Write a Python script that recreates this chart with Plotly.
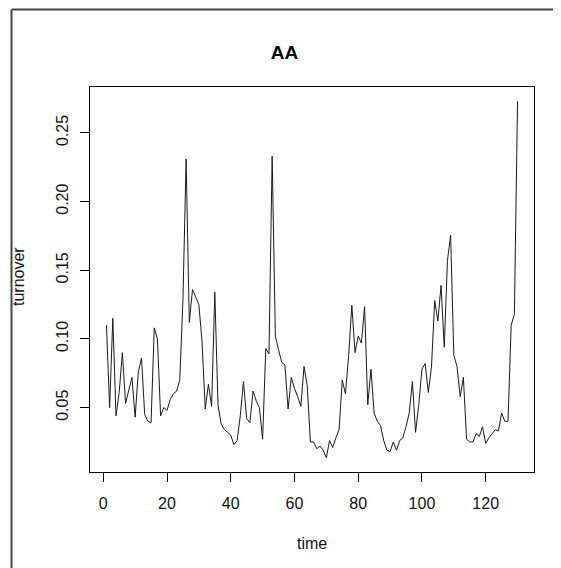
import plotly.graph_objects as go

time = list(range(1, 131))
turnover = [
    0.110, 0.050, 0.115, 0.044, 0.061, 0.090, 0.053, 0.063, 0.072, 0.043,
    0.076, 0.086, 0.045, 0.040, 0.039, 0.108, 0.100, 0.044, 0.050, 0.048,
    0.056, 0.060, 0.062, 0.070, 0.128, 0.231, 0.112, 0.136, 0.131, 0.125,
    0.098, 0.049, 0.067, 0.051, 0.134, 0.052, 0.038, 0.034, 0.032, 0.030,
    0.023, 0.026, 0.044, 0.069, 0.042, 0.039, 0.062, 0.055, 0.050, 0.027,
    0.093, 0.089, 0.233, 0.102, 0.092, 0.083, 0.081, 0.049, 0.072, 0.064,
    0.058, 0.051, 0.080, 0.066, 0.025, 0.025, 0.020, 0.022, 0.019, 0.0135,
    0.026, 0.021, 0.028, 0.034, 0.070, 0.060, 0.088, 0.1245, 0.090, 0.102,
    0.097, 0.1235, 0.052, 0.078, 0.046, 0.040, 0.037, 0.026, 0.019, 0.018,
    0.025, 0.019, 0.026, 0.028, 0.036, 0.046, 0.069, 0.032, 0.052, 0.078,
    0.082, 0.061, 0.080, 0.128, 0.113, 0.139, 0.094, 0.157, 0.1755, 0.088,
    0.080, 0.058, 0.072, 0.027, 0.025, 0.025, 0.031, 0.029, 0.036, 0.024,
    0.028, 0.031, 0.034, 0.033, 0.046, 0.040, 0.040, 0.110, 0.118, 0.273,
]
x_ticks = [0, 20, 40, 60, 80, 100, 120]
y_ticks = [0.05, 0.10, 0.15, 0.20, 0.25]
y_tick_labels = ["0.05", "0.10", "0.15", "0.20", "0.25"]

# R-style 4% axis extension
xmin, xmax = min(time), max(time)
ymin, ymax = min(turnover), max(turnover)
xr = [xmin - 0.04 * (xmax - xmin), xmax + 0.04 * (xmax - xmin)]
yr = [ymin - 0.04 * (ymax - ymin), ymax + 0.04 * (ymax - ymin)]

FONT = "Liberation Sans, Arial, sans-serif"
OFF = 8  # page body margin
W, H = 561 - OFF, 568 - OFF
ML, MT = 90 - OFF, 87 - OFF
MR = W - (534 - OFF)
MB = H - (472 - OFF)
PW, PH = W - ML - MR, H - MT - MB

def px(sx):
    return (sx - OFF - ML) / PW

def py(sy):
    return (H - MB - (sy - OFF)) / PH

fig = go.Figure()
fig.add_trace(go.Scatter(x=time, y=turnover, mode="lines",
                         line=dict(color="#1a1a1a", width=1), hoverinfo="skip",
                         showlegend=False))

axis_common = dict(showline=True, mirror=True, linecolor="black", linewidth=1,
                   ticks="outside", ticklen=9, tickwidth=1, tickcolor="black",
                   showgrid=False, zeroline=False,
                   tickfont=dict(family=FONT, size=16, color="#111"))

fig.update_xaxes(range=xr, tickvals=x_ticks, ticklabelstandoff=8, **axis_common)
fig.update_yaxes(range=yr, tickvals=y_ticks, ticktext=y_tick_labels,
                 tickangle=-90, ticklabelstandoff=6, **axis_common)

fig.update_layout(
    width=W, height=H,
    margin=dict(l=ML, r=MR, t=MT, b=MB, autoexpand=False),
    paper_bgcolor="white", plot_bgcolor="white",
    title=dict(text="<b>AA</b>", x=px(312), xanchor="center",
               y=1 - (52 - OFF) / H, yanchor="middle",
               font=dict(family=FONT, size=19, color="black")),
    annotations=[
        dict(text="time", x=px(312), y=py(543), xref="paper", yref="paper",
             showarrow=False, xanchor="center", yanchor="middle",
             font=dict(family=FONT, size=16, color="#111")),
        dict(text="turnover", x=px(18), y=py(277), xref="paper", yref="paper",
             showarrow=False, xanchor="center", yanchor="middle", textangle=-90,
             font=dict(family=FONT, size=16, color="#111")),
    ],
    shapes=[
        dict(type="line", xref="paper", yref="paper",
             x0=px(11.5), x1=px(11.5), y0=py(9.5), y1=py(570),
             line=dict(color="#444", width=2)),
        dict(type="line", xref="paper", yref="paper",
             x0=px(11.5), x1=px(563), y0=py(9.5), y1=py(9.5),
             line=dict(color="#444", width=2)),
    ],
)

fig.write_html("out.html")
